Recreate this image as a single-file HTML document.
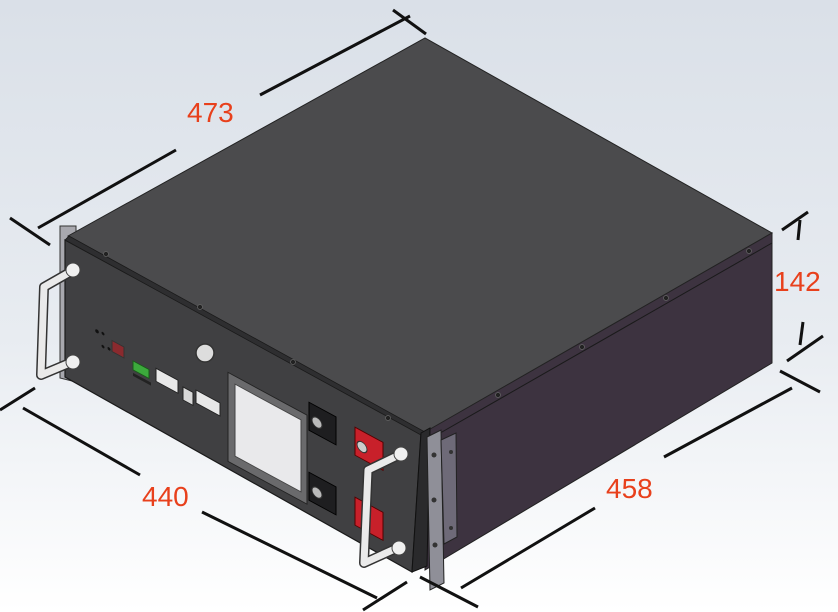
<!DOCTYPE html>
<html><head><meta charset="utf-8"><style>
html,body{margin:0;padding:0;width:838px;height:612px;overflow:hidden;background:#fff}
svg{display:block}
text{font-family:"Liberation Sans",sans-serif;fill:#e8401c;font-size:28px}
</style></head><body>
<svg width="838" height="612" viewBox="0 0 838 612" xmlns="http://www.w3.org/2000/svg">
<defs>
<linearGradient id="bg" x1="0" y1="0" x2="0" y2="1">
<stop offset="0" stop-color="#dae0e8"/><stop offset="0.55" stop-color="#e8ecf1"/><stop offset="1" stop-color="#ffffff"/>
</linearGradient>
</defs>
<rect width="838" height="612" fill="url(#bg)"/>

<!-- rack ear left -->
<polygon points="60,226 76,226 76,382 60,378" fill="#a8a8ae" stroke="#333" stroke-width="1"/>
<!-- top face -->
<polygon points="68,236 425,38 772,233 423,434" fill="#4b4b4d" stroke="#222" stroke-width="1"/>
<!-- right side face -->
<polygon points="425,432 772,233 772,363 425,570" fill="#3d3340" stroke="#222" stroke-width="1"/>
<line x1="428" y1="440" x2="772" y2="243" stroke="#1a1a1a" stroke-width="1"/>
<!-- front panel -->
<polygon points="65,240 421,433 412,572 65,377" fill="#404042" stroke="#1a1a1a" stroke-width="1.2"/>
<polygon points="65,240 69,236 425,432 421,435" fill="#2e2e30" stroke="#1a1a1a" stroke-width="0.8"/>
<polygon points="412,572 421,433 430,428 427,566" fill="#2a2a2c" stroke="#111" stroke-width="1"/>
<!-- rack ear right -->
<polygon points="427,437 441,430 444,583 430,590" fill="#8f8f98" stroke="#222" stroke-width="1"/>
<polygon points="441,440 456,433 457,537 444,544" fill="#6e6a78" stroke="#222" stroke-width="1"/>
<circle cx="434" cy="455" r="2.5" fill="#333"/><circle cx="434" cy="500" r="2.5" fill="#333"/><circle cx="435" cy="545" r="2.5" fill="#333"/>
<circle cx="451" cy="452" r="2" fill="#333"/><circle cx="451" cy="528" r="2" fill="#333"/>

<!-- screws -->
<g fill="#222" stroke="#666" stroke-width="0.7">
<circle cx="106" cy="254" r="2.5"/><circle cx="200" cy="307" r="2.5"/><circle cx="293" cy="362" r="2.5"/><circle cx="388" cy="418" r="2.5"/>
<circle cx="498" cy="395" r="2.5"/><circle cx="582" cy="347" r="2.5"/><circle cx="666" cy="298" r="2.5"/><circle cx="749" cy="251" r="2.5"/>
</g>

<!-- panel details in local coords -->
<g transform="matrix(1,0.542,0,1,65,240)">
<rect x="163" y="44" width="79" height="89" fill="#6a6a6c" stroke="#222"/>
<rect x="170" y="52" width="66" height="72" fill="#e9e9eb" stroke="#444"/>
<rect x="244" y="30" width="27" height="28" fill="#1e1e20" stroke="#000"/>
<circle cx="252" cy="46" r="5" fill="#bbb" stroke="#333"/>
<rect x="244" y="100" width="27" height="28" fill="#1e1e20" stroke="#000"/>
<circle cx="252" cy="116" r="5" fill="#bbb" stroke="#333"/>
<rect x="290" y="30" width="28" height="28" fill="#c8202a" stroke="#500"/>
<circle cx="297" cy="46" r="5" fill="#ccc" stroke="#333"/>
<rect x="290" y="100" width="28" height="28" fill="#c8202a" stroke="#500"/>
<rect x="47" y="75" width="12" height="11" fill="#8a2a2e" stroke="#333"/>
<rect x="68" y="84" width="16" height="9" fill="#3caa3c" stroke="#1a5a1a"/>
<rect x="68" y="96" width="18" height="3" fill="#222"/>
<rect x="91" y="79" width="22" height="13" fill="#e8e8e8" stroke="#222"/>
<rect x="118" y="83" width="10" height="13" fill="#d8d8d8" stroke="#222"/>
<rect x="131" y="79" width="24" height="13" fill="#e8e8e8" stroke="#222"/>
<circle cx="32" cy="74" r="1.8" fill="#111"/><circle cx="38" cy="73" r="1.5" fill="#111"/>
<circle cx="38" cy="86" r="1.5" fill="#111"/><circle cx="44" cy="85" r="1.5" fill="#111"/>
</g>
<circle cx="205" cy="353" r="9" fill="#ddd" stroke="#333" stroke-width="1.5"/>

<!-- left handle -->
<path d="M72,271 L44,287 L41,375 L72,362" fill="none" stroke="#333" stroke-width="10" stroke-linejoin="round"/>
<path d="M72,271 L44,287 L41,375 L72,362" fill="none" stroke="#eaeaea" stroke-width="7" stroke-linejoin="round"/>
<circle cx="73" cy="270" r="7" fill="#f0f0f0" stroke="#444"/>
<circle cx="73" cy="362" r="7" fill="#f0f0f0" stroke="#444"/>
<!-- right handle -->
<path d="M399,455 L368,470 L364,563 L397,548" fill="none" stroke="#333" stroke-width="10" stroke-linejoin="round"/>
<path d="M399,455 L368,470 L364,563 L397,548" fill="none" stroke="#eaeaea" stroke-width="7" stroke-linejoin="round"/>
<circle cx="401" cy="454" r="7" fill="#f0f0f0" stroke="#444"/>
<circle cx="399" cy="548" r="7" fill="#f0f0f0" stroke="#444"/>

<!-- dimension lines -->
<g stroke="#111" stroke-width="3" stroke-linecap="butt">
<line x1="10" y1="218" x2="50" y2="245"/>
<line x1="38" y1="228" x2="176" y2="150"/>
<line x1="260" y1="95" x2="410" y2="16"/>
<line x1="393" y1="10" x2="426" y2="34"/>

<line x1="0" y1="410" x2="35" y2="388"/>
<line x1="23" y1="408" x2="140" y2="475"/>
<line x1="202" y1="512" x2="377" y2="598"/>
<line x1="363" y1="610" x2="407" y2="582"/>

<line x1="420" y1="577" x2="478" y2="607"/>
<line x1="461" y1="588" x2="595" y2="508"/>
<line x1="664" y1="457" x2="792" y2="388"/>
<line x1="780" y1="371" x2="820" y2="392"/>

<line x1="782" y1="230" x2="808" y2="212"/>
<line x1="800" y1="220" x2="798" y2="240"/>
<line x1="787" y1="361" x2="823" y2="336"/>
<line x1="803" y1="322" x2="800" y2="345"/>
</g>
<text x="187" y="122">473</text>
<text x="142" y="506">440</text>
<text x="606" y="498">458</text>
<text x="774" y="291">142</text>
</svg>
</body></html>
